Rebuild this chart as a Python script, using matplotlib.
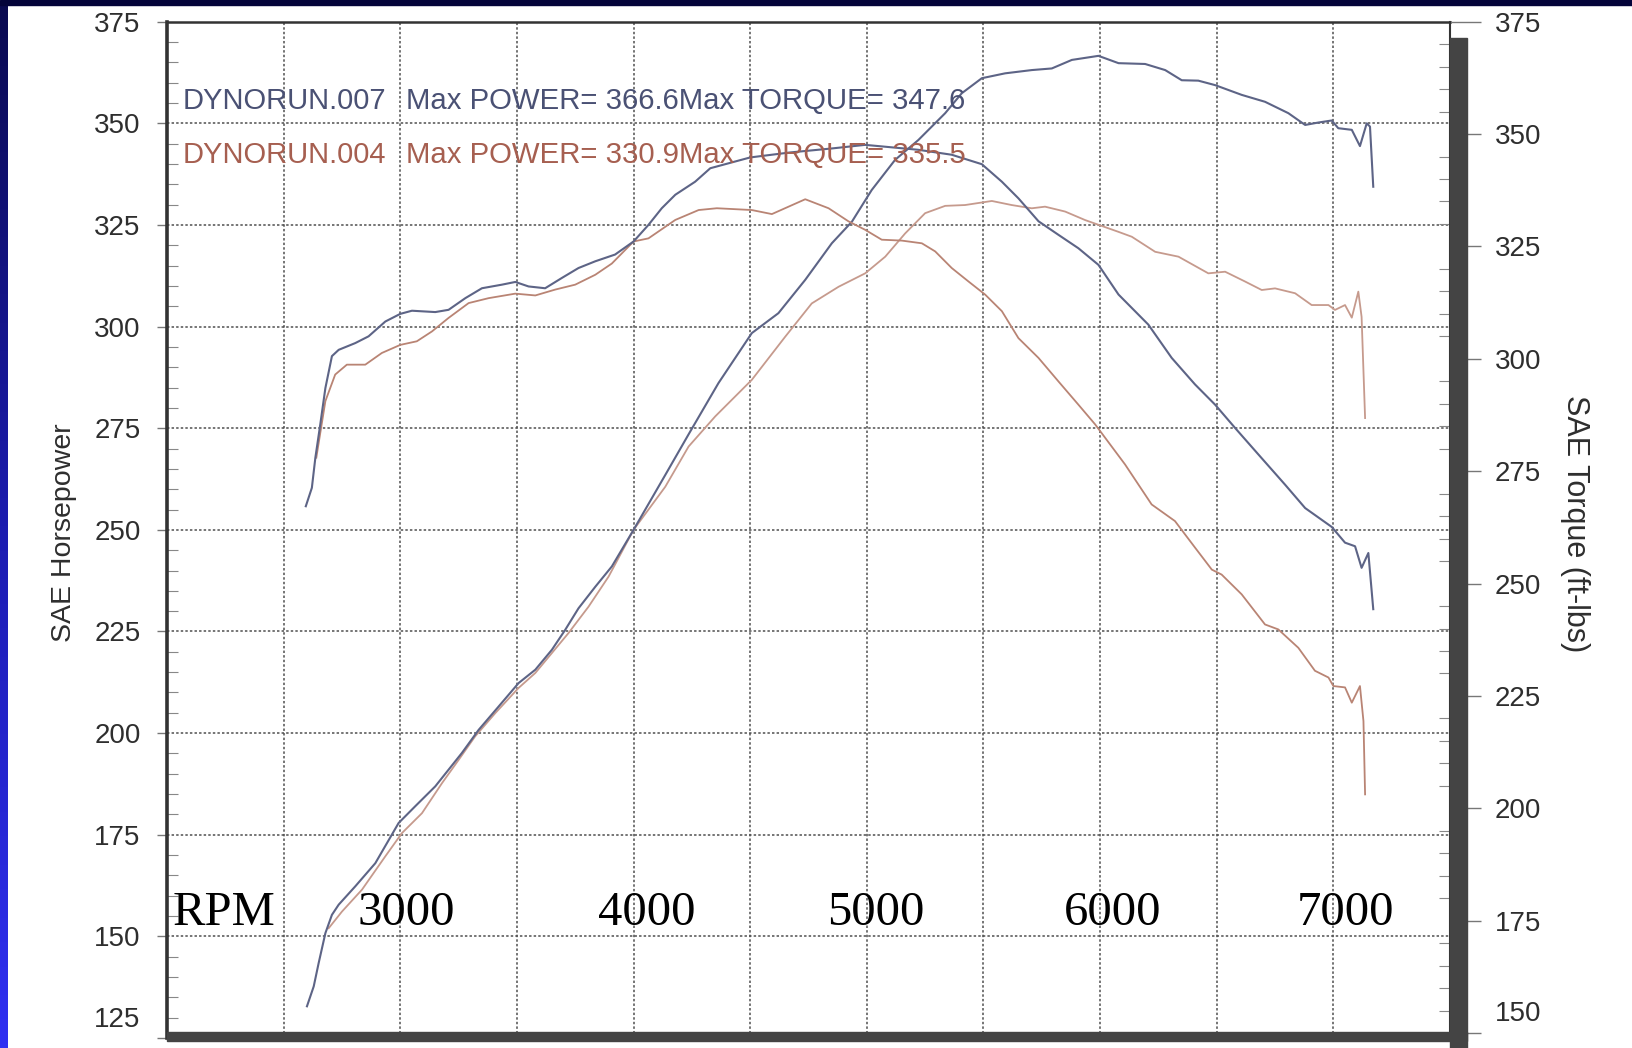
import numpy as np
import matplotlib
matplotlib.use("Agg")
import matplotlib.pyplot as plt
from matplotlib.patches import Rectangle
from matplotlib.ticker import MultipleLocator
from matplotlib.colors import LinearSegmentedColormap

# ---------------- data (read from the dyno sheet) ----------------
rpm_hp_007 = [2600, 2629, 2650, 2679, 2707, 2736, 2807, 2893, 2993, 3064, 3150, 3207, 3264, 3336,
              3421, 3507, 3579, 3650, 3707, 3764, 3836, 3907, 4000, 4136, 4236, 4364, 4507, 4621,
              4736, 4850, 4936, 5021, 5121, 5221, 5336, 5407, 5493, 5593, 5707, 5793, 5879, 5993,
              6079, 6193, 6279, 6350, 6421, 6493, 6607, 6707, 6807, 6879, 6936, 6993, 7021, 7079,
              7114, 7143, 7157, 7171]
hp_007 = [132.8, 137.7, 143.4, 150.8, 155.3, 157.8, 162.3, 168.0, 177.9, 182.0, 186.9, 191.0, 195.1, 200.8,
          206.5, 212.3, 215.6, 220.5, 225.4, 230.7, 236.0, 241.0, 250.0, 263.5, 273.5, 286.1, 298.4, 303.3,
          311.5, 320.5, 325.8, 333.6, 341.0, 345.9, 352.5, 357.4, 361.1, 362.3, 363.1, 363.5, 365.6, 366.6,
          364.8, 364.6, 363.1, 360.6, 360.5, 359.4, 357.0, 355.3, 352.5, 349.6, 350.2, 350.7, 348.8, 348.4,
          344.4, 350.0, 349.2, 334.4]

rpm_tq_007 = [2595, 2621, 2636, 2657, 2679, 2707, 2736, 2807, 2864, 2936, 3000, 3050, 3150, 3207,
              3279, 3350, 3436, 3493, 3550, 3621, 3693, 3764, 3836, 3921, 4000, 4064, 4121, 4179,
              4264, 4329, 4500, 4669, 4850, 4993, 5221, 5364, 5493, 5579, 5650, 5736, 5821, 5907,
              5993, 6079, 6207, 6307, 6407, 6493, 6579, 6679, 6793, 6879, 6993, 7050, 7093, 7121,
              7150, 7171]
tq_007 = [267.2, 271.3, 278.0, 285.4, 293.5, 300.6, 302.0, 303.5, 305.0, 308.3, 310.0, 310.7, 310.4, 310.9,
          313.5, 315.7, 316.5, 317.1, 316.1, 315.7, 318.0, 320.2, 321.7, 323.2, 326.1, 329.8, 333.5, 336.5,
          339.4, 342.4, 344.8, 345.9, 346.8, 347.6, 346.5, 345.4, 343.3, 339.4, 335.7, 330.6, 327.6, 324.6,
          320.9, 314.3, 307.6, 300.2, 294.3, 289.8, 284.6, 278.7, 272.0, 266.8, 262.6, 259.1, 258.3, 253.5,
          256.8, 244.3]

rpm_hp_004 = [2693, 2750, 2836, 2936, 3007, 3093, 3179, 3250, 3321, 3407, 3507, 3579, 3650, 3721,
              3807, 3893, 4000, 4136, 4236, 4350, 4507, 4650, 4764, 4879, 4993, 5079, 5164, 5250,
              5336, 5421, 5536, 5621, 5707, 5764, 5850, 5936, 6079, 6136, 6236, 6336, 6464, 6536,
              6621, 6693, 6750, 6836, 6907, 6979, 7007, 7050, 7079, 7107, 7121, 7136]
hp_004 = [152.0, 156.1, 161.5, 169.7, 175.4, 180.3, 187.7, 193.4, 199.2, 204.9, 211.1, 214.8, 219.7, 224.6,
          231.1, 238.5, 250.0, 260.6, 270.5, 277.9, 286.9, 297.5, 305.7, 309.8, 313.1, 317.2, 322.9, 327.9,
          329.7, 329.9, 330.9, 329.9, 329.1, 329.5, 328.3, 326.2, 323.3, 322.1, 318.4, 317.2, 313.1, 313.5,
          311.1, 309.0, 309.4, 308.2, 305.3, 305.3, 304.1, 305.3, 302.2, 308.6, 302.4, 277.5]

rpm_tq_004 = [2640, 2679, 2721, 2771, 2850, 2921, 3000, 3071, 3136, 3207, 3293, 3379, 3493, 3579,
              3664, 3750, 3836, 3907, 4000, 4064, 4179, 4279, 4357, 4507, 4593, 4736, 4836, 4921,
              4993, 5064, 5150, 5236, 5293, 5364, 5436, 5507, 5579, 5650, 5736, 5821, 5907, 5979,
              6107, 6221, 6321, 6407, 6479, 6521, 6607, 6707, 6764, 6850, 6921, 6979, 7000, 7050,
              7079, 7114, 7129, 7136]
tq_004 = [278.0, 290.6, 296.5, 298.7, 298.7, 301.3, 303.1, 303.9, 306.1, 309.1, 312.4, 313.5, 314.5, 314.1,
          315.4, 316.5, 318.7, 321.2, 326.1, 326.8, 330.9, 333.1, 333.5, 333.1, 332.2, 335.5, 333.5, 330.6,
          328.7, 326.5, 326.3, 325.7, 323.9, 320.2, 317.2, 314.3, 310.6, 304.6, 300.2, 295.0, 289.8, 285.4,
          276.5, 267.6, 263.9, 258.0, 253.1, 252.0, 247.6, 240.9, 239.8, 235.7, 230.6, 229.1, 227.2, 226.9,
          223.5, 227.2, 219.4, 203.1]

hp_ticks = [125, 150, 175, 200, 225, 250, 275, 300, 325, 350, 375]
tq_ticks = [150, 175, 200, 225, 250, 275, 300, 325, 350, 375]
rpm_labels = ["3000", "4000", "5000", "6000", "7000"]
legend_lines = [("DYNORUN.007", "Max POWER= 366.6Max TORQUE= 347.6"),
                ("DYNORUN.004", "Max POWER= 330.9Max TORQUE= 335.5")]

# ---------------- figure ----------------
W, H = 1633, 1048
plt.rcParams['font.family'] = ['Liberation Sans', 'DejaVu Sans']
fig = plt.figure(figsize=(W / 100, H / 100), dpi=100)
fig.patch.set_facecolor('white')

def fx(px):
    return px / W

def fy(py):
    return 1 - py / H

ax_l, ax_r, ax_t, ax_b = 167, 1450, 21.7, 1038
ax = fig.add_axes([fx(ax_l), fy(ax_b), (ax_r - ax_l) / W, (ax_b - ax_t) / H])
ax.set_xlim(2000, 7500)
ax.set_ylim(125, 375)
ax2 = ax.twinx()
ax2.set_ylim(148.9, 375)

BLUE_LINE = '#5d6486'
RED_LINE = '#c69a8d'
RED_TQ = '#b98474'
BLUE_TXT = '#4a5174'
RED_TXT = '#a65f50'
LABEL = '#2e2e2e'

ax.plot(rpm_hp_004, hp_004, color=RED_LINE, lw=1.3, zorder=3)
ax.plot(rpm_hp_007, hp_007, color=BLUE_LINE, lw=1.5, zorder=4)
ax2.plot(rpm_tq_004, tq_004, color=RED_TQ, lw=1.3, zorder=3)
ax2.plot(rpm_tq_007, tq_007, color=BLUE_LINE, lw=1.5, zorder=4)

# grid
ax.set_xticks(np.arange(2500, 7001, 500))
ax.tick_params(axis='x', length=0, labelbottom=False)
ax.grid(True, which='major', linestyle=(0, (1.6, 1.4)), color='#505050', lw=1.1)
ax.set_axisbelow(True)

# left axis ticks
ax.set_yticks(hp_ticks)
ax.set_yticklabels([''] + [str(t) for t in hp_ticks[1:]])
ax.yaxis.set_minor_locator(MultipleLocator(5))
ax.tick_params(axis='y', which='major', direction='out', length=7, width=1, color='#777777',
               labelsize=20, labelcolor=LABEL, pad=12, right=False)
ax.tick_params(axis='y', which='minor', direction='in', length=8, width=0.8, color='#888888', right=False)

# right axis ticks
ax2.set_yticks(tq_ticks)
ax2.set_yticklabels([''] + [str(t) for t in tq_ticks[1:]])
ax2.yaxis.set_minor_locator(MultipleLocator(5))
ax2.tick_params(axis='y', which='major', direction='out', length=22, width=1, color='#777777',
                labelsize=20, labelcolor=LABEL, pad=10)
ax2.tick_params(axis='y', which='minor', direction='in', length=8, width=0.8, color='#888888')

for s in ['left', 'top', 'bottom']:
    ax2.spines[s].set_visible(False)
ax2.spines['right'].set_color('#333333')
ax2.spines['right'].set_linewidth(1.5)
ax.spines['right'].set_visible(False)
ax.spines['top'].set_color('#333333')
ax.spines['top'].set_linewidth(1.8)
ax.spines['left'].set_color('#333333')
ax.spines['left'].set_linewidth(2.6)
ax.spines['bottom'].set_color('#444444')
ax.spines['bottom'].set_linewidth(1)

# displaced bottom labels as on the sheet
fig.text(fx(140), fy(1020), "125", ha='right', va='center', fontsize=20, color=LABEL)
fig.text(fx(1495), fy(1014), "150", ha='left', va='center', fontsize=20, color=LABEL)

# axis titles
fig.text(fx(64), fy(533), "SAE Horsepower", rotation=90, ha='center', va='center',
         fontsize=20.5, color=LABEL)
fig.text(fx(1575), fy(524), "SAE Torque (ft-lbs)", rotation=270, ha='center', va='center',
         fontsize=22, color=LABEL)

# legend text
for (name, info), col, base in zip(legend_lines, [BLUE_TXT, RED_TXT], [109, 163]):
    fig.text(fx(183), fy(base), name, ha='left', va='baseline', fontsize=21, color=col, zorder=6)
    fig.text(fx(406), fy(base), info, ha='left', va='baseline', fontsize=21.2, color=col, zorder=6)

# RPM overlay labels
serif = ['Liberation Serif', 'DejaVu Serif']
fig.text(fx(173), fy(925), "RPM", ha='left', va='baseline', fontsize=35, family=serif, color='black', zorder=6)
for lab, x0 in zip(rpm_labels, [358, 598, 827, 1064, 1297]):
    fig.text(fx(x0), fy(925), lab, ha='left', va='baseline', fontsize=35, family=serif,
             color='black', zorder=6)

# thick frame bars (scan shadow)
fig.patches.append(Rectangle((fx(167), fy(1041)), (1467 - 167) / W, 9 / H,
                             transform=fig.transFigure, color='#444444', zorder=5))
fig.patches.append(Rectangle((fx(1450), 0), 17 / W, fy(38), transform=fig.transFigure,
                             color='#444444', zorder=5))

# slide background strips
fig.patches.append(Rectangle((0, fy(5)), 1, 5 / H, transform=fig.transFigure,
                             color='#04043a', zorder=7))
strip = fig.add_axes([0, 0, 8 / W, fy(5)])
cmap = LinearSegmentedColormap.from_list('strip', ['#0a0a50', '#1c1cb0', '#3030f2'])
strip.imshow(np.linspace(0, 1, 256).reshape(-1, 1), aspect='auto', cmap=cmap)
strip.axis('off')

fig.savefig('out.png', dpi=100, facecolor='white')
